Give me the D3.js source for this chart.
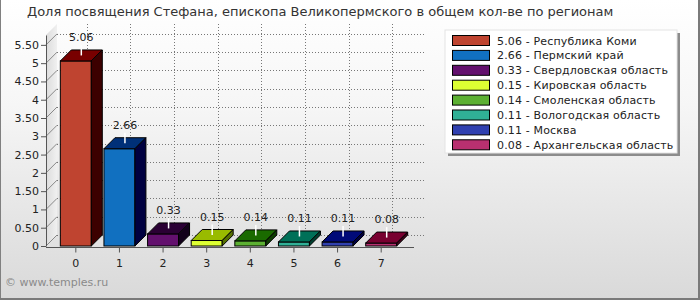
<!DOCTYPE html>
<html>
<head>
<meta charset="utf-8">
<script src="https://cdn.jsdelivr.net/npm/d3@7/dist/d3.min.js"></script>
<style>
  body { margin: 0; }
  svg { display: block; font-family: "DejaVu Sans", Verdana, sans-serif; }
</style>
</head>
<body>
<svg width="700" height="300"></svg>
<script>
"use strict";
// data
var categories = ["0", "1", "2", "3", "4", "5", "6", "7"];
var values = [5.06, 2.66, 0.33, 0.15, 0.14, 0.11, 0.11, 0.08];
var regions = ["Республика Коми", "Пермский край", "Свердловская область", "Кировская область",
  "Смоленская область", "Вологодская область", "Москва", "Архангельская область"];
var frontColors = ["#bf4430", "#1170c0", "#63106e", "#ddff33", "#5cb032", "#30b096", "#3040b0", "#b83070"];
var topColors = ["#780000", "#003078", "#2a0034", "#99bb00", "#1a6a00", "#007058", "#000a78", "#780030"];
var sideColors = ["#3c0000", "#000040", "#12001a", "#557000", "#0d3c00", "#004030", "#000040", "#400018"];
var yTicks = [0, 0.5, 1, 1.5, 2, 2.5, 3, 3.5, 4, 4.5, 5, 5.5];
var yTickLabels = ["0", "0.50", "1", "1.50", "2", "2.50", "3", "3.50", "4", "4.50", "5", "5.50"];
var title = "Доля посвящения Стефана, епископа Великопермского в общем кол-ве по регионам";

var svg = d3.select("svg"),
    W = 700, H = 300,
    D = 11; // 3d depth

var x = d3.scaleBand().domain(categories).range([54, 403]).paddingInner(0.29).paddingOuter(0.145);
var y = d3.scaleLinear().domain([0, 5.77]).range([246, 35]);
var bw = x.bandwidth();

var defs = svg.append("defs");
var bg = defs.append("linearGradient").attr("id", "bg").attr("x1", 0).attr("y1", 0).attr("x2", 0).attr("y2", 1);
bg.append("stop").attr("offset", "0").attr("stop-color", "#ffffff");
bg.append("stop").attr("offset", "0.35").attr("stop-color", "#f6f6f6");
bg.append("stop").attr("offset", "1").attr("stop-color", "#d9d9d9");
var wallG = defs.append("linearGradient").attr("id", "wall").attr("x1", 0).attr("y1", 0).attr("x2", 1).attr("y2", 0);
wallG.append("stop").attr("offset", "0").attr("stop-color", "#dcdcdc");
wallG.append("stop").attr("offset", "1").attr("stop-color", "#f0f0f0");

// background + frame
svg.append("rect").attr("width", W).attr("height", H).attr("fill", "url(#bg)");
svg.append("line").attr("x1", 0.5).attr("x2", 0.5).attr("y1", 0).attr("y2", H).attr("stroke", "#808080");
svg.append("rect").attr("x", W - 2).attr("y", 0).attr("width", 2).attr("height", H).attr("fill", "#7a7a7a");
svg.append("rect").attr("x", 0).attr("y", H - 2).attr("width", W).attr("height", 2).attr("fill", "#7a7a7a");

svg.append("text").attr("x", 27).attr("y", 16).attr("font-size", 13).attr("fill", "#333").text(title);

var x0 = x.range()[0] - 8, x1 = x.range()[1] + 10;
var y0 = y(0), yTop = y.range()[1];

// left wall
svg.append("path")
    .attr("d", "M" + x0 + "," + y0 + "L" + x0 + "," + yTop + "L" + (x0 + D) + "," + (yTop - D) +
        "L" + (x0 + D) + "," + (y0 - D) + "Z")
    .attr("fill", "url(#wall)");

var grid = svg.append("g");
grid.selectAll(".hg").data(yTicks).enter().append("line")
    .attr("x1", x0 + D).attr("x2", x1 + D)
    .attr("y1", function (d) { return Math.round(y(d) - D) + 0.5; })
    .attr("y2", function (d) { return Math.round(y(d) - D) + 0.5; })
    .attr("stroke", "#777").attr("stroke-dasharray", "1,2");
grid.selectAll(".vg").data(categories).enter().append("line")
    .attr("x1", function (d) { return Math.round(x(d) + bw / 2 + D) + 0.5; })
    .attr("x2", function (d) { return Math.round(x(d) + bw / 2 + D) + 0.5; })
    .attr("y1", yTop - D).attr("y2", y0 - D)
    .attr("stroke", "#777").attr("stroke-dasharray", "1,2");
grid.selectAll(".dg").data(yTicks).enter().append("line")
    .attr("x1", x0).attr("x2", x0 + D)
    .attr("y1", function (d) { return y(d); })
    .attr("y2", function (d) { return y(d) - D; })
    .attr("stroke", "#888");

// axes
var yAxis = svg.append("g").attr("transform", "translate(" + x0 + ",0)")
    .call(d3.axisLeft(y).tickValues(yTicks).tickFormat(function (d, i) { return yTickLabels[i]; })
        .tickSize(5).tickSizeOuter(0));
yAxis.select(".domain").attr("stroke", "#555");
yAxis.selectAll(".tick line").attr("stroke", "#555");
yAxis.selectAll("text").attr("font-size", 11).attr("fill", "#222").attr("font-family", "DejaVu Sans").attr("x", -7);

var xAxis = svg.append("g").attr("transform", "translate(0," + (y0 + 1.5) + ")")
    .call(d3.axisBottom(x).tickSize(5).tickSizeOuter(0));
xAxis.select(".domain").remove();
xAxis.append("line").attr("x1", x0).attr("x2", x1 + 1).attr("stroke", "#555");
xAxis.selectAll(".tick line").attr("stroke", "#555");
xAxis.selectAll("text").attr("font-size", 11).attr("fill", "#222").attr("font-family", "DejaVu Sans").attr("dy", "1.05em");

// bars
var bars = svg.selectAll(".bar").data(values).enter().append("g");
bars.append("rect")
    .attr("x", function (d, i) { return x(categories[i]); })
    .attr("y", function (d) { return y(d); })
    .attr("width", bw)
    .attr("height", function (d) { return y0 - y(d); })
    .attr("fill", function (d, i) { return frontColors[i]; })
    .attr("stroke", "#000");
bars.append("path")
    .attr("d", function (d, i) {
        var a = x(categories[i]), t = y(d);
        return "M" + a + "," + t + "L" + (a + D) + "," + (t - D) + "L" + (a + bw + D) + "," + (t - D) +
            "L" + (a + bw) + "," + t + "Z";
    })
    .attr("fill", function (d, i) { return topColors[i]; })
    .attr("stroke", "#000");
bars.append("path")
    .attr("d", function (d, i) {
        var a = x(categories[i]) + bw, t = y(d);
        return "M" + a + "," + t + "L" + (a + D) + "," + (t - D) + "L" + (a + D) + "," + (y0 - D) +
            "L" + a + "," + y0 + "Z";
    })
    .attr("fill", function (d, i) { return sideColors[i]; })
    .attr("stroke", "#000");

// value labels
bars.append("line")
    .attr("x1", function (d, i) { return x(categories[i]) + bw / 2 + D / 2; })
    .attr("x2", function (d, i) { return x(categories[i]) + bw / 2 + D / 2; })
    .attr("y1", function (d) { return y(d) - D / 2; })
    .attr("y2", function (d) { return y(d) - 16; })
    .attr("stroke", "#fff").attr("stroke-width", 1.5);
bars.append("text")
    .attr("x", function (d, i) { return x(categories[i]) + bw / 2 + D / 2; })
    .attr("y", function (d) { return y(d) - 20; })
    .attr("text-anchor", "middle").attr("font-size", 11).attr("fill", "#222")
    .text(function (d) { return d.toFixed(2); });

// legend
var lg = svg.append("g").attr("transform", "translate(445,30)");
lg.append("rect").attr("x", 3).attr("y", 3).attr("width", 232).attr("height", 123).attr("fill", "#8c8c8c");
lg.append("rect").attr("width", 232).attr("height", 123).attr("fill", "#fff").attr("stroke", "#e4e4e4");
var rows = lg.selectAll(".row").data(values).enter().append("g")
    .attr("transform", function (d, i) { return "translate(0," + (5 + i * 14.9) + ")"; });
rows.append("rect").attr("x", 7.5).attr("y", 0.5).attr("width", 37).attr("height", 10)
    .attr("fill", function (d, i) { return frontColors[i]; }).attr("stroke", "#000");
rows.append("text").attr("x", 52).attr("y", 9.5).attr("font-size", 11).attr("fill", "#222")
    .attr("letter-spacing", 0.15)
    .text(function (d, i) { return d.toFixed(2) + " - " + regions[i]; });

svg.append("text").attr("x", 5).attr("y", 286).attr("font-size", 11).attr("fill", "#8a8a8a").text("© www.temples.ru");
</script>
</body>
</html>
